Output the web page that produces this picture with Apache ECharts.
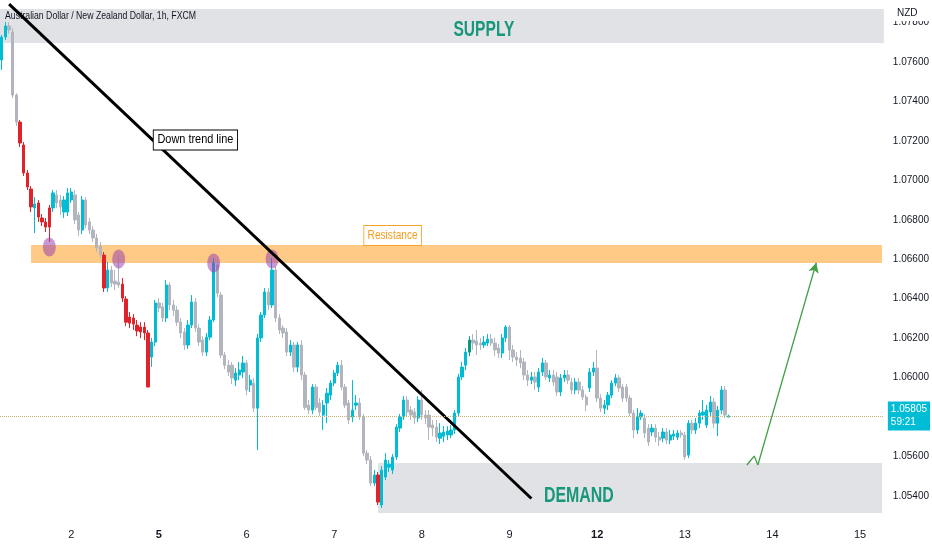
<!DOCTYPE html>
<html>
<head>
<meta charset="utf-8">
<script src="https://cdn.jsdelivr.net/npm/echarts@6/dist/echarts.min.js"></script>
<style>
  html, body { margin: 0; padding: 0; background: #ffffff; }
  #chart { width: 932px; height: 550px; }
</style>
</head>
<body>
<div id="chart"></div>
<script>
// ---------- categories / tick labels ----------
const dayLabels = ['1', '2', '5', '6', '7', '8', '9', '12', '13', '14', '15'];
const weekStartLabels = ['5', '12'];
const firstHourOfDay1 = 5;
const totalSlots = 242;
const yTickLabels = [1.054, 1.056, 1.060, 1.062, 1.064, 1.066, 1.068, 1.070, 1.072, 1.074, 1.076, 1.078];
const yMin = 1.05278, yMax = 1.07914;
const lastPrice = 1.05805;
const countdown = '59:21';
const chartTitle = 'Australian Dollar / New Zealand Dollar, 1h, FXCM';
const currencyLabel = 'NZD';

// ---------- candles: [open, close, low, high] ----------
const day1 = [
  [1.07610,1.07726,1.07559,1.07737],[1.07726,1.07782,1.07711,1.07802],[1.07782,1.07762,1.07742,1.07802],
  [1.07752,1.07432,1.07417,1.07772],[1.07432,1.07295,1.07275,1.07442],[1.07295,1.07189,1.07169,1.07306],
  [1.07179,1.07037,1.07022,1.07194],[1.07037,1.06966,1.06951,1.07052],[1.06956,1.06865,1.06839,1.06971],
  [1.06860,1.06880,1.06733,1.06915],[1.06885,1.06814,1.06789,1.06900],[1.06809,1.06789,1.06768,1.06829],
  [1.06789,1.06763,1.06738,1.06809],[1.06763,1.06860,1.06687,1.06875],[1.06860,1.06936,1.06839,1.06951],
  [1.06926,1.06885,1.06860,1.06951],[1.06900,1.06865,1.06824,1.06926],[1.06839,1.06900,1.06809,1.06920],
  [1.06839,1.06936,1.06819,1.06961]
];
const day2 = [
  [1.06900,1.06941,1.06885,1.06961],[1.06926,1.06799,1.06778,1.06951],[1.06824,1.06748,1.06717,1.06839],
  [1.06748,1.06900,1.06728,1.06920],[1.06900,1.06773,1.06758,1.06915],[1.06789,1.06748,1.06728,1.06809],
  [1.06748,1.06708,1.06687,1.06768],[1.06708,1.06657,1.06636,1.06728],[1.06667,1.06621,1.06606,1.06687],
  [1.06621,1.06454,1.06434,1.06636],[1.06454,1.06545,1.06434,1.06586],[1.06545,1.06479,1.06459,1.06565],
  [1.06489,1.06474,1.06444,1.06545],[1.06484,1.06469,1.06454,1.06621],[1.06474,1.06403,1.06383,1.06505],
  [1.06398,1.06281,1.06261,1.06413],[1.06307,1.06276,1.06251,1.06332],[1.06302,1.06271,1.06241,1.06322],
  [1.06266,1.06236,1.06210,1.06292],[1.06256,1.06231,1.06200,1.06281],[1.06256,1.06226,1.06190,1.06281],
  [1.06226,1.05952,1.05952,1.06241],[1.06104,1.06180,1.06054,1.06201],[1.06180,1.06378,1.06160,1.06393]
];
const day5 = [
  [1.06378,1.06353,1.06332,1.06403],[1.06358,1.06302,1.06281,1.06378],[1.06302,1.06469,1.06281,1.06494],
  [1.06469,1.06368,1.06342,1.06484],[1.06368,1.06342,1.06312,1.06393],[1.06342,1.06281,1.06261,1.06363],
  [1.06281,1.06226,1.06200,1.06302],[1.06231,1.06165,1.06140,1.06251],[1.06165,1.06266,1.06145,1.06292],
  [1.06266,1.06383,1.06251,1.06418],[1.06383,1.06251,1.06231,1.06403],[1.06251,1.06180,1.06160,1.06271],
  [1.06190,1.06129,1.06109,1.06210],[1.06129,1.06205,1.06109,1.06226],[1.06205,1.06292,1.06190,1.06312],
  [1.06292,1.06581,1.06281,1.06606],[1.06571,1.06428,1.06408,1.06586],[1.06418,1.06114,1.06099,1.06434],
  [1.06114,1.06063,1.06043,1.06129],[1.06063,1.06028,1.06008,1.06089],[1.06063,1.05998,1.05967,1.06079],
  [1.05987,1.06023,1.05957,1.06048],[1.06013,1.06038,1.05987,1.06079],[1.06028,1.06074,1.05998,1.06109]
];
const day6 = [
  [1.06074,1.05937,1.05911,1.06089],[1.05962,1.05987,1.05927,1.06013],[1.05972,1.05845,1.05825,1.05998],
  [1.05845,1.06201,1.05633,1.06221],[1.06201,1.06317,1.06180,1.06332],[1.06317,1.06434,1.06302,1.06454],
  [1.06434,1.06368,1.06342,1.06454],[1.06368,1.06545,1.06353,1.06606],[1.06545,1.06302,1.06281,1.06565],
  [1.06302,1.06241,1.06221,1.06322],[1.06251,1.06226,1.06200,1.06266],[1.06231,1.06129,1.06109,1.06251],
  [1.06129,1.06165,1.06109,1.06190],[1.06165,1.06053,1.06028,1.06180],[1.06053,1.06165,1.06028,1.06180],
  [1.06165,1.06013,1.05987,1.06190],[1.06013,1.05849,1.05835,1.06028],[1.05860,1.05835,1.05815,1.05886],
  [1.05835,1.05952,1.05815,1.05967],[1.05952,1.05849,1.05835,1.05967],[1.05871,1.05825,1.05805,1.05896],
  [1.05810,1.05860,1.05734,1.05886],[1.05871,1.05921,1.05769,1.05947],[1.05911,1.05972,1.05886,1.05987]
];
const day7 = [
  [1.05972,1.06023,1.05957,1.06038],[1.06023,1.06063,1.06008,1.06079],[1.06063,1.05952,1.05937,1.06089],
  [1.05952,1.05860,1.05845,1.05967],[1.05871,1.05785,1.05764,1.05886],[1.05800,1.05835,1.05774,1.05987],
  [1.05860,1.05871,1.05835,1.05911],[1.05871,1.05800,1.05785,1.05896],[1.05800,1.05617,1.05602,1.05815],
  [1.05617,1.05582,1.05561,1.05633],[1.05582,1.05465,1.05450,1.05602],[1.05465,1.05506,1.05450,1.05531],
  [1.05506,1.05369,1.05354,1.05521],[1.05354,1.05531,1.05339,1.05551],[1.05496,1.05582,1.05480,1.05617],
  [1.05546,1.05561,1.05521,1.05582],[1.05531,1.05597,1.05511,1.05612],[1.05597,1.05749,1.05582,1.05764],
  [1.05744,1.05800,1.05724,1.05815],[1.05800,1.05886,1.05785,1.05906],[1.05886,1.05825,1.05805,1.05906],
  [1.05835,1.05810,1.05785,1.05856],[1.05825,1.05795,1.05764,1.05845],[1.05795,1.05886,1.05774,1.05906]
];
const day8 = [
  [1.05886,1.05810,1.05785,1.05937],[1.05810,1.05795,1.05764,1.05835],[1.05810,1.05749,1.05683,1.05835],
  [1.05759,1.05744,1.05703,1.05785],[1.05749,1.05698,1.05673,1.05785],[1.05693,1.05719,1.05663,1.05769],
  [1.05703,1.05724,1.05673,1.05754],[1.05709,1.05729,1.05683,1.05754],[1.05709,1.05734,1.05693,1.05759],
  [1.05734,1.05820,1.05714,1.05835],[1.05820,1.06003,1.05805,1.06018],[1.06003,1.06053,1.05987,1.06079],
  [1.06063,1.06129,1.06038,1.06150],[1.06129,1.06190,1.06109,1.06210],[1.06190,1.06175,1.06140,1.06221],
  [1.06185,1.06165,1.06114,1.06241],[1.06175,1.06165,1.06140,1.06201],[1.06165,1.06180,1.06150,1.06210],
  [1.06175,1.06195,1.06160,1.06221],[1.06195,1.06175,1.06160,1.06221],[1.06175,1.06140,1.06109,1.06201],
  [1.06150,1.06124,1.06099,1.06170],[1.06124,1.06201,1.06099,1.06221],[1.06201,1.06256,1.06180,1.06266]
];
const day9 = [
  [1.06256,1.06140,1.06089,1.06266],[1.06140,1.06104,1.06079,1.06165],[1.06104,1.06089,1.06058,1.06129],
  [1.06099,1.06074,1.06048,1.06140],[1.06079,1.06013,1.05987,1.06099],[1.06013,1.05987,1.05957,1.06038],
  [1.05987,1.06003,1.05967,1.06028],[1.06003,1.05977,1.05937,1.06028],[1.05952,1.06028,1.05927,1.06048],
  [1.06028,1.06074,1.06008,1.06099],[1.06074,1.06003,1.05987,1.06089],[1.05998,1.06013,1.05977,1.06038],
  [1.06013,1.05977,1.05957,1.06038],[1.06003,1.05927,1.05906,1.06028],[1.05927,1.05998,1.05906,1.06018],
  [1.05998,1.06013,1.05977,1.06038],[1.06013,1.05987,1.05967,1.06038],[1.05977,1.05937,1.05916,1.05998],
  [1.05937,1.05977,1.05916,1.05998],[1.05977,1.05937,1.05916,1.05998],[1.05937,1.05901,1.05886,1.05957],
  [1.05901,1.05861,1.05830,1.05916],[1.05947,1.06028,1.05927,1.06048],[1.06028,1.06048,1.06008,1.06079]
];
const day12 = [
  [1.06048,1.05896,1.05876,1.06140],[1.05896,1.05845,1.05825,1.05916],[1.05845,1.05861,1.05815,1.05886],
  [1.05861,1.05911,1.05835,1.05927],[1.05911,1.05972,1.05896,1.05987],[1.05972,1.05998,1.05957,1.06018],
  [1.05998,1.05947,1.05927,1.06013],[1.05952,1.05896,1.05876,1.05967],[1.05952,1.05896,1.05876,1.05967],
  [1.05896,1.05820,1.05805,1.05911],[1.05820,1.05734,1.05693,1.05835],[1.05734,1.05800,1.05714,1.05845],
  [1.05800,1.05820,1.05785,1.05835],[1.05795,1.05719,1.05693,1.05815],[1.05744,1.05673,1.05653,1.05764],
  [1.05724,1.05744,1.05703,1.05764],[1.05744,1.05698,1.05673,1.05764],[1.05698,1.05683,1.05653,1.05724],
  [1.05693,1.05724,1.05673,1.05744],[1.05724,1.05683,1.05663,1.05744],[1.05683,1.05709,1.05663,1.05734],
  [1.05703,1.05714,1.05683,1.05734],[1.05698,1.05719,1.05683,1.05734],[1.05719,1.05709,1.05693,1.05734]
];
const day13 = [
  [1.05709,1.05597,1.05582,1.05724],[1.05607,1.05769,1.05592,1.05785],[1.05769,1.05734,1.05714,1.05785],
  [1.05734,1.05769,1.05714,1.05795],[1.05769,1.05820,1.05744,1.05835],[1.05810,1.05825,1.05785,1.05886],
  [1.05759,1.05835,1.05744,1.05861],[1.05825,1.05876,1.05805,1.05906],[1.05876,1.05769,1.05744,1.05896],
  [1.05769,1.05835,1.05703,1.05856],[1.05835,1.05937,1.05815,1.05957],[1.05937,1.05810,1.05795,1.05957],
  [1.05800,1.05805,1.05798,1.05812]
];
const redCandles = [5,6,7,8,10,11,12,13,28,33,34,35,36,37,38,39,40,103];
const greenCandles = [128];

// ---------- drawings ----------
const supplyZone = [1.07868, 1.07696];
const demandZone = { from: 103, top: 1.05567, bottom: 1.05313 };
const resistanceZone = { from: 8, top: 1.06672, bottom: 1.06581 };
const trendLine = [[2, 1.07893], [145, 1.05387]];
const touchPoints = [[13, 1.06662], [32, 1.06601], [58, 1.06581], [74, 1.06601]];
const projectionPath = [[204, 1.05557], [206, 1.05602], [207, 1.05557], [223, 1.06582]];
const textNotes = [
  { name: 'Down trend line', at: [53, 1.07204] },
  { name: 'Resistance', at: [107, 1.06720] },
  { name: 'SUPPLY', at: [132, 1.07763] },
  { name: 'DEMAND', at: [158, 1.05400] }
];

// ---------- build ----------
const categories = [];
for (const d of dayLabels) {
  for (let h = (d === '1' ? firstHourOfDay1 : 0); h < 24; h++) {
    if (categories.length < totalSlots) categories.push(d + ' ' + String(h).padStart(2, '0') + ':00');
  }
}
const candles = [].concat(day1, day2, day5, day6, day7, day8, day9, day12, day13);

const UP = '#00bcd4', DOWN = '#b2b5be', RED = '#e0232b', GREEN = '#089981';
const FONT = '"Liberation Sans", Arial, sans-serif';
function paint(c) { return { color: c, color0: c, borderColor: c, borderColor0: c }; }
const candleData = candles.map((c, i) => {
  if (redCandles.includes(i)) return { value: c, itemStyle: paint(RED) };
  if (greenCandles.includes(i)) return { value: c, itemStyle: paint(GREEN) };
  return c;
});

// text styling (target widths emulate the condensed typeface of the original)
const noteStyles = {
  'Down trend line': { font: '12px ' + FONT, fill: '#000', width: 76, box: { backgroundColor: '#fff', borderColor: '#000', borderWidth: 1, padding: [4, 4, 3, 4] } },
  'Resistance': { font: '12px ' + FONT, fill: '#f59d1a', width: 50, box: { backgroundColor: '#fff', borderColor: '#f7a32a', borderWidth: 1, padding: [4, 4, 3, 4] } },
  'SUPPLY': { font: 'bold 22px ' + FONT, fill: '#18977a', width: 61, box: {} },
  'DEMAND': { font: 'bold 22px ' + FONT, fill: '#18977a', width: 70, box: {} }
};
const measureCtx = document.createElement('canvas').getContext('2d');
function fitScale(text, font, target) {
  measureCtx.font = font;
  return target / measureCtx.measureText(text).width;
}

const chart = echarts.init(document.getElementById('chart'), null, { renderer: 'canvas' });
chart.setOption({
  animation: false,
  backgroundColor: '#ffffff',
  grid: { left: 0, right: 43, top: 0, bottom: 30 },
  xAxis: {
    type: 'category',
    data: categories,
    boundaryGap: true,
    axisLine: { show: false },
    axisTick: { show: false },
    splitLine: { show: false },
    axisLabel: {
      interval: (idx, val) => val.endsWith(' 00:00'),
      formatter: (val) => {
        const d = val.split(' ')[0];
        return weekStartLabels.includes(d) ? '{b|' + d + '}' : d;
      },
      rich: { b: { fontWeight: 'bold', fontSize: 11, color: '#131722', fontFamily: FONT } },
      color: '#131722', fontSize: 11, fontFamily: FONT, margin: 9
    }
  },
  yAxis: {
    type: 'value',
    position: 'right',
    min: yMin, max: yMax,
    axisLine: { show: false },
    axisTick: { show: false },
    splitLine: { show: false },
    axisLabel: {
      customValues: yTickLabels,
      formatter: (v) => v.toFixed(5),
      color: '#131722', fontSize: 10, fontFamily: FONT, margin: 9
    }
  },
  series: [
    {
      name: 'AUDNZD',
      type: 'candlestick',
      data: candleData,
      barWidth: 2.8,
      itemStyle: { color: UP, color0: DOWN, borderColor: UP, borderColor0: DOWN, borderWidth: 1 },
      markArea: {
        silent: true,
        data: [
          [{ yAxis: supplyZone[0], itemStyle: { color: 'rgba(120,125,140,0.22)' } }, { yAxis: supplyZone[1] }],
          [{ xAxis: resistanceZone.from, yAxis: resistanceZone.top, itemStyle: { color: 'rgba(255,170,60,0.62)' } },
           { xAxis: totalSlots - 1, yAxis: resistanceZone.bottom }],
          [{ xAxis: demandZone.from, yAxis: demandZone.top, itemStyle: { color: 'rgba(120,125,140,0.22)' } },
           { xAxis: totalSlots - 1, yAxis: demandZone.bottom }]
        ]
      },
      markLine: {
        silent: true,
        precision: 5,
        symbol: ['none', 'none'],
        animation: false,
        label: { show: false },
        data: [
          [
            { coord: trendLine[0], lineStyle: { color: '#000000', width: 3, type: 'solid' } },
            { coord: trendLine[1] }
          ]
        ]
      }
    },
    {
      name: 'touches',
      type: 'scatter',
      z: 4,
      data: touchPoints,
      symbol: 'circle',
      symbolSize: [13, 19],
      itemStyle: { color: 'rgba(150, 60, 175, 0.66)' },
      silent: true,
      markLine: {
        silent: true,
        precision: 5,
        symbol: ['none', 'none'],
        animation: false,
        data: [
          {
            yAxis: lastPrice,
            lineStyle: { type: 'dotted', color: '#c8b27a', width: 1 },
            label: {
              show: true, position: 'end', distance: 4,
              formatter: lastPrice.toFixed(5) + '\n' + countdown,
              color: '#ffffff', backgroundColor: UP, fontSize: 10, fontFamily: FONT,
              lineHeight: 13, padding: [2, 3, 1, 3], align: 'left'
            }
          }
        ]
      }
    },
    {
      name: 'projection',
      type: 'line',
      z: 4,
      data: projectionPath.slice(0, 3),
      showSymbol: false,
      symbol: 'none',
      lineStyle: { color: '#43a047', width: 1.3 },
      silent: true,
      markLine: {
        silent: true,
        precision: 5,
        animation: false,
        label: { show: false },
        data: [
          [
            { coord: projectionPath[2], lineStyle: { color: '#43a047', width: 1.3, type: 'solid' }, symbol: 'none' },
            { coord: projectionPath[3], symbol: 'arrow', symbolSize: [8, 10] }
          ]
        ]
      }
    }
  ]
});

// text annotations placed through the chart's own scales
const titleFont = '11px ' + FONT;
const graphics = [
  { type: 'text', x: 5, y: 16, z: 1, scaleX: fitScale(chartTitle, titleFont, 191),
    style: { text: chartTitle, font: titleFont, fill: '#131722', verticalAlign: 'middle' } },
  { type: 'rect', x: 890, y: 0, z: 100, shape: { width: 42, height: 21 }, style: { fill: '#ffffff' } },
  { type: 'text', x: 897, y: 13, z: 101, style: { text: currencyLabel, font: '10px ' + FONT, fill: '#131722', verticalAlign: 'middle' } }
];
textNotes.forEach(n => {
  const st = noteStyles[n.name];
  const p = chart.convertToPixel({ gridIndex: 0 }, n.at);
  graphics.push({
    type: 'text', x: p[0], y: p[1], z: 50,
    scaleX: fitScale(n.name, st.font, st.width),
    style: Object.assign({ text: n.name, font: st.font, fill: st.fill, align: 'center', verticalAlign: 'middle' }, st.box)
  });
});
chart.setOption({ graphic: graphics });
</script>
</body>
</html>
